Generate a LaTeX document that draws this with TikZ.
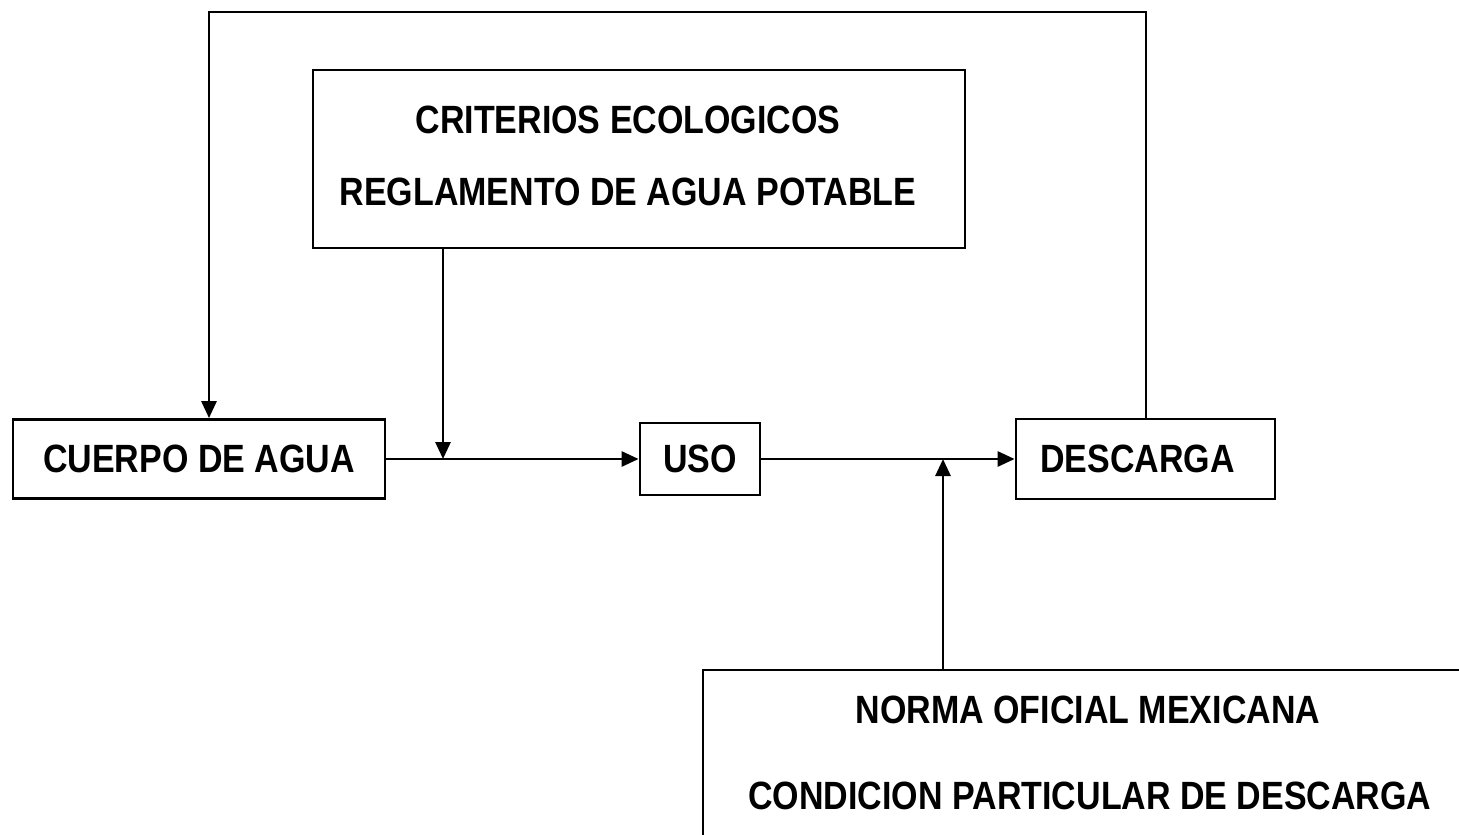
\documentclass[tikz,border=0pt]{standalone}
\usepackage{fontspec}
\usepackage{graphicx}
\newfontfamily\dgfam{Liberation Sans}
\newcommand\dgfont{\dgfam\bfseries\fontsize{34}{36}\selectfont}
\newcommand\dgtall[1]{\scalebox{1}[1.16]{#1}}
\usetikzlibrary{arrows.meta}
\begin{document}
\begin{tikzpicture}[x=1pt,y=-1pt,line width=2.8pt,
  box/.style={draw,inner sep=0pt,font=\dgfont},
  lbl/.style={inner sep=0pt,font=\dgfont},
  arr/.style={-{Triangle[length=17pt,width=15pt]}}]
\useasboundingbox (0,0) rectangle (1459,835);
% boxes
\node[box,minimum width=372pt,minimum height=79pt] (cuerpo) at (199,459) {\dgtall{CUERPO DE AGUA}};
\node[box,minimum width=120pt,minimum height=72pt] (uso) at (700,459) {\dgtall{USO}};
\node[box,minimum width=259pt,minimum height=80pt,text width=259pt,align=center] (descarga) at (1145.5,459) {\hspace*{-16pt}\dgtall{DESCARGA}};
\node[box,minimum width=652pt,minimum height=178pt] (crit) at (639,159) {};
\node[lbl] (t1) at (628,120) {\dgtall{CRITERIOS ECOLOGICOS}};
\node[lbl] (t2) at (628,192) {\dgtall{REGLAMENTO DE AGUA POTABLE}};
% norma (open box)
\draw (1459,670) -- (703,670) -- (703,835);
\node[lbl] (t3) at (1088,710) {\dgtall{NORMA OFICIAL MEXICANA}};
\node[lbl] (t4) at (1090,796) {\dgtall{CONDICION PARTICULAR DE DESCARGA}};
% coordinates
\coordinate (tl) at (209,12);
\coordinate (tr) at (1146,12);
\coordinate (j1) at (443,459);
\coordinate (j2) at (943,459);
\coordinate (nt) at (943,670);
% connectors
\draw[arr] (descarga.north -| tr) -- (tr) -- (tl) -- (tl |- cuerpo.north);
\draw[arr] (crit.south -| j1) -- (j1);
\draw[arr] (cuerpo.east) -- (uso.west);
\draw[arr] (uso.east) -- (descarga.west);
\draw[arr] (nt) -- (j2);
\end{tikzpicture}
\end{document}
